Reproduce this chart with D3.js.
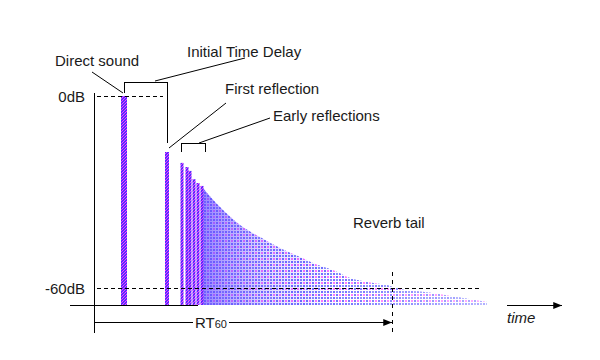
<!DOCTYPE html>
<html>
<head>
<meta charset="utf-8">
<script src="https://cdn.jsdelivr.net/npm/d3@7/dist/d3.min.js"></script>
<style>
  html, body { margin: 0; padding: 0; background: #fff; }
  svg { display: block; }
  text { font-family: "Liberation Sans", Arial, sans-serif; font-size: 15px; fill: #1a1a1a; }
</style>
</head>
<body>
<svg id="chart" width="600" height="360"></svg>
<script>
// ---------- data ----------
// discrete arrivals: direct sound, first reflection, early reflections (time in ms, level in dB)
const barNames  = ["Direct sound", "First reflection", "Early", "Early", "Early", "Early", "Early", "Early"];
const barTimes  = [30, 73, 88, 93, 96, 100, 104, 108];
const barLevels = [0, -17.5, -20.9, -22.2, -23.4, -26.0, -27.2, -28.1];
// reverb tail envelope
const tailTimes  = [108, 126, 146, 166, 186, 206, 224, 239, 256, 273, 293, 306, 333, 369, 393];
const tailLevels = [-28.4, -34.7, -40.3, -44.1, -47.5, -50.3, -52.8, -54.4, -56.9, -58.1, -59.1, -60.3, -61.3, -63.1, -64.4];
// reference levels / labels
const levelTicks = [0, -60];
const levelLabels = ["0dB", "-60dB"];
const floorLevel = -65.3;
const rt60 = 298;
const labels = ["Direct sound", "Initial Time Delay", "First reflection", "Early reflections", "Reverb tail", "time"];

// ---------- scales ----------
const svg = d3.select("#chart");
const x = d3.scaleLinear().domain([0, 298]).range([94, 392]);
const y = d3.scaleLinear().domain([0, -60]).range([96, 288]);
const yBase = y(floorLevel);

// ---------- patterns / gradients ----------
const defs = svg.append("defs");
const pb = defs.append("pattern").attr("id", "barFill").attr("patternUnits", "userSpaceOnUse")
  .attr("width", 3).attr("height", 3);
pb.append("rect").attr("width", 3).attr("height", 3).attr("fill", "#5530ff");
pb.append("rect").attr("x", 0).attr("y", 0).attr("width", 1).attr("height", 1).attr("fill", "#ff3cff");
pb.append("rect").attr("x", 2).attr("y", 1).attr("width", 1).attr("height", 1).attr("fill", "#ff3cff");
pb.append("rect").attr("x", 1).attr("y", 2).attr("width", 1).attr("height", 1).attr("fill", "#e040ff");

const pt = defs.append("pattern").attr("id", "tailDots").attr("patternUnits", "userSpaceOnUse")
  .attr("width", 6).attr("height", 6);
pt.append("rect").attr("x", 0).attr("y", 0).attr("width", 2).attr("height", 2).attr("fill", "#6464ff");
pt.append("rect").attr("x", 3).attr("y", 3).attr("width", 2).attr("height", 2).attr("fill", "#6464ff");
pt.append("rect").attr("x", 3).attr("y", 0).attr("width", 2).attr("height", 2).attr("fill", "#ff66ff");
pt.append("rect").attr("x", 0).attr("y", 3).attr("width", 2).attr("height", 2).attr("fill", "#8080ff");

const g1 = defs.append("linearGradient").attr("id", "tailDense").attr("gradientUnits", "userSpaceOnUse")
  .attr("x1", x(tailTimes[0])).attr("x2", 340).attr("y1", 0).attr("y2", 0);
g1.append("stop").attr("offset", 0).attr("stop-color", "#6a50ff").attr("stop-opacity", 0.7);
g1.append("stop").attr("offset", 0.5).attr("stop-color", "#8a70ff").attr("stop-opacity", 0.25);
g1.append("stop").attr("offset", 1).attr("stop-color", "#8a8aff").attr("stop-opacity", 0);

const g2 = defs.append("linearGradient").attr("id", "tailFade").attr("gradientUnits", "userSpaceOnUse")
  .attr("x1", 300).attr("x2", 490).attr("y1", 0).attr("y2", 0);
g2.append("stop").attr("offset", 0).attr("stop-color", "#fff").attr("stop-opacity", 0);
g2.append("stop").attr("offset", 1).attr("stop-color", "#fff").attr("stop-opacity", 0.5);

const arrow = defs.append("marker").attr("id", "arrow").attr("viewBox", "0 0 10 8")
  .attr("refX", 10).attr("refY", 4).attr("markerWidth", 9).attr("markerHeight", 7)
  .attr("markerUnits", "userSpaceOnUse").attr("orient", "auto");
arrow.append("path").attr("d", "M0,0 L10,4 L0,8 Z").attr("fill", "#000");

// ---------- reverb tail ----------
const tailData = tailTimes.map((t, i) => ({ t, v: tailLevels[i] }));
const area = d3.area().x(d => x(d.t)).y0(yBase).y1(d => y(d.v)).curve(d3.curveMonotoneX);
svg.append("path").datum(tailData).attr("d", area).attr("fill", "url(#tailDots)");
svg.append("path").datum(tailData).attr("d", area).attr("fill", "url(#tailDense)");
svg.append("path").datum(tailData).attr("d", area).attr("fill", "url(#tailFade)");

// ---------- discrete bars ----------
const barW = i => i === 0 ? 6 : (i === 1 ? 4 : 3);
svg.append("g").selectAll("rect").data(barTimes).join("rect")
  .attr("x", (d, i) => x(d) - barW(i) / 2)
  .attr("y", (d, i) => y(barLevels[i]))
  .attr("width", (d, i) => barW(i))
  .attr("height", (d, i) => yBase - y(barLevels[i]))
  .attr("fill", "url(#barFill)");

// ---------- axes ----------
const line = (x1, y1, x2, y2, dash) => svg.append("line")
  .attr("x1", x1).attr("y1", y1).attr("x2", x2).attr("y2", y2)
  .attr("stroke", "#000").attr("stroke-width", 1).attr("stroke-dasharray", dash || null)
  .attr("shape-rendering", "crispEdges");

line(x(0) + 0.5, 93, x(0) + 0.5, 333);
line(70, yBase + 0.5, x(barTimes[barTimes.length - 1]) - 4, yBase + 0.5);

const yAxis = d3.axisLeft(y).tickValues(levelTicks).tickSize(0).tickPadding(9)
  .tickFormat((d, i) => levelLabels[i]);
const ya = svg.append("g").attr("transform", `translate(${x(0)},0)`).call(yAxis);
ya.select(".domain").remove();
ya.selectAll("text").attr("font-size", 15).attr("font-family", "Liberation Sans, Arial, sans-serif")
  .attr("fill", "#1a1a1a").attr("dy", "0.36em");

// reference dashed lines
line(x(0) + 3, y(0) + 0.5, x(barTimes[1]) - 4, y(0) + 0.5, "4,3");
line(x(0) + 3, y(-60) + 0.5, 482, y(-60) + 0.5, "4,3");
line(x(rt60) + 0.5, 272, x(rt60) + 0.5, 333, "4,4");

// RT60 arrow
svg.append("line").attr("x1", x(0)).attr("y1", 322.5).attr("x2", x(rt60)).attr("y2", 322.5)
  .attr("stroke", "#000").attr("marker-end", "url(#arrow)");
const rtBg = svg.append("rect").attr("fill", "#fff");
const rtText = svg.append("text").attr("x", 195).attr("y", 328);
rtText.append("tspan").text("RT");
rtText.append("tspan").attr("font-size", 11).text("60");
const bb = rtText.node().getBBox();
rtBg.attr("x", bb.x - 2).attr("y", 316).attr("width", bb.width + 4).attr("height", 14);

// time arrow
svg.append("line").attr("x1", 507).attr("y1", 305.5).attr("x2", 562).attr("y2", 305.5)
  .attr("stroke", "#000").attr("marker-end", "url(#arrow)");
svg.append("text").attr("x", 507).attr("y", 323).attr("font-style", "italic").text(labels[5]);

// ---------- annotations ----------
const path = d => svg.append("path").attr("d", d).attr("fill", "none").attr("stroke", "#000")
  .attr("stroke-width", 1).attr("shape-rendering", "crispEdges");
// initial time delay bracket
const bx1 = Math.round(x(barTimes[0])) + 0.5, bx2 = Math.round(x(barTimes[1])) + 0.5;
path(`M${bx1},93 V82.5 H${bx2} V143`);
// early reflections bracket
const ex1 = Math.round(x(barTimes[2])) - 0.5, ex2 = Math.round(x(tailTimes[0])) + 3.5;
path(`M${ex1},152 V143.5 H${ex2} V152`);

const leader = (x1, y1, x2, y2) => svg.append("line").attr("x1", x1).attr("y1", y1).attr("x2", x2).attr("y2", y2)
  .attr("stroke", "#000").attr("stroke-width", 1);
leader(92, 72, 123, 93);
leader(155, 81, 245, 58);
leader(226, 103, 169, 148);
leader(270, 118, 199, 143);

svg.append("text").attr("x", 55).attr("y", 66).text(labels[0]);
svg.append("text").attr("x", 187).attr("y", 57).text(labels[1]);
svg.append("text").attr("x", 225).attr("y", 94).text(labels[2]);
svg.append("text").attr("x", 273).attr("y", 121).text(labels[3]);
svg.append("text").attr("x", 353).attr("y", 228).text(labels[4]);
</script>
</body>
</html>
